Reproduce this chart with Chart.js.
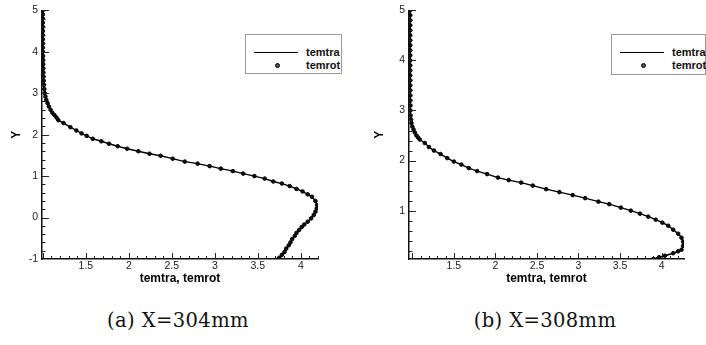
<!DOCTYPE html>
<html>
<head>
<meta charset="utf-8">
<script src="https://cdn.jsdelivr.net/npm/chart.js@4.4.0/dist/chart.umd.min.js"></script>
<style>
  body { margin: 0; background: #fff; width: 706px; height: 345px; position: relative; overflow: hidden; }
  canvas { position: absolute; top: 0; }
  .legend { position: absolute; top: 34px; height: 40px; border: 1px solid #9a9a9a; background: #fff;
            font: bold 11px 'Liberation Sans', Arial, sans-serif; color: #111; box-sizing: border-box; }
  .legend .ln { position: absolute; left: 8px; top: 17px; width: 44px; height: 0; border-top: 1.5px solid #000; }
  .legend .mk { position: absolute; left: 29px; top: 28px; width: 3px; height: 3px; border: 1px solid #000; border-radius: 50%; background: #555; }
  .legend .t1, .legend .t2 { position: absolute; left: 60px; line-height: 13px; }
  .legend .t1 { top: 11px; }
  .legend .t2 { top: 24px; }
  .cap { position: absolute; top: 309px; width: 320px; text-align: center; font: 19.5px 'DejaVu Serif', serif; letter-spacing: 0.4px; color: #111; }
</style>
</head>
<body>
<canvas id="chartA" width="353" height="290" style="left:0"></canvas>
<canvas id="chartB" width="353" height="290" style="left:353px"></canvas>

<div class="legend" style="left:245px;width:97px">
  <div class="ln"></div><div class="t1">temtra</div>
  <div class="mk"></div><div class="t2">temrot</div>
</div>
<div class="legend" style="left:611px;width:95px;height:41px">
  <div class="ln"></div><div class="t1">temtra</div>
  <div class="mk"></div><div class="t2">temrot</div>
</div>

<div class="cap" style="left:18px">(a) X=304mm</div>
<div class="cap" style="left:385px">(b) X=308mm</div>

<script>
// (a) X=304mm -- temtra and temrot lie on top of each other, so one profile feeds both
const yA = [5.0, 4.9, 4.8, 4.7, 4.6, 4.5, 4.4, 4.3, 4.2, 4.1, 4.0, 3.9, 3.8, 3.7, 3.6, 3.5, 3.4, 3.3, 3.2, 3.1,
  3.0, 2.92, 2.84, 2.76, 2.68, 2.6, 2.53, 2.47, 2.41, 2.35, 2.28, 2.18, 2.10, 2.03, 1.97, 1.90, 1.84, 1.78, 1.72,
  1.66, 1.60, 1.54, 1.49, 1.42, 1.35, 1.30, 1.24, 1.18, 1.12, 1.06, 1.00, 0.94, 0.87, 0.82, 0.76, 0.69, 0.63,
  0.56, 0.50, 0.40, 0.30, 0.22, 0.14, 0.06, -0.02, -0.10, -0.17, -0.23, -0.30, -0.37, -0.44, -0.52, -0.60,
  -0.67, -0.75, -0.83, -0.90, -0.97, -1.0];
const temA = [1.0, 1.0, 1.0, 1.0, 1.0, 1.0, 1.0, 1.0, 1.0, 1.0, 1.0, 1.002, 1.003, 1.004, 1.005, 1.006, 1.008, 1.01, 1.013, 1.017,
  1.022, 1.03, 1.04, 1.055, 1.07, 1.09, 1.11, 1.135, 1.16, 1.18, 1.24, 1.32, 1.39, 1.45, 1.51, 1.58, 1.68, 1.77, 1.87,
  1.98, 2.11, 2.24, 2.37, 2.51, 2.65, 2.80, 2.94, 3.07, 3.21, 3.33, 3.46, 3.58, 3.68, 3.78, 3.87, 3.95, 4.02,
  4.08, 4.13, 4.17, 4.19, 4.185, 4.17, 4.15, 4.12, 4.08, 4.04, 4.01, 3.98, 3.95, 3.93, 3.90, 3.88,
  3.86, 3.83, 3.81, 3.78, 3.75, 3.74];

// (b) X=308mm
const yB = [5.0, 4.9, 4.8, 4.7, 4.6, 4.5, 4.4, 4.3, 4.2, 4.1, 4.0, 3.9, 3.8, 3.7, 3.6, 3.5, 3.4, 3.3, 3.2, 3.1,
  3.0, 2.9, 2.82, 2.75, 2.68, 2.62, 2.56, 2.5, 2.46, 2.42, 2.35, 2.27, 2.20, 2.13, 2.05, 1.98, 1.92, 1.85, 1.79,
  1.73, 1.66, 1.61, 1.56, 1.50, 1.43, 1.37, 1.31, 1.25, 1.18, 1.13, 1.06, 1.00, 0.94, 0.88, 0.82, 0.76, 0.70,
  0.62, 0.54, 0.46, 0.38, 0.30, 0.22, 0.19, 0.15, 0.10, 0.07, 0.035];
const temB = [0.975, 0.975, 0.975, 0.975, 0.975, 0.975, 0.975, 0.975, 0.975, 0.975, 0.975, 0.975, 0.975, 0.975, 0.976, 0.976, 0.976, 0.977, 0.977, 0.978,
  0.978, 0.98, 0.985, 0.99, 1.0, 1.015, 1.03, 1.05, 1.07, 1.09, 1.15, 1.20, 1.26, 1.34, 1.42, 1.50, 1.59, 1.68, 1.78,
  1.90, 2.03, 2.16, 2.31, 2.45, 2.61, 2.77, 2.93, 3.08, 3.24, 3.37, 3.51, 3.63, 3.74, 3.84, 3.93, 4.01, 4.08,
  4.14, 4.20, 4.24, 4.26, 4.26, 4.24, 4.20, 4.14, 4.04, 3.97, 3.90];

const xTicks = [1.5, 2, 2.5, 3, 3.5, 4];
const yTicksA = [-1, 0, 1, 2, 3, 4, 5];
const yTicksB = [1, 2, 3, 4, 5];

const sansFont = "'Liberation Sans', Arial, sans-serif";

// inward major/minor tick marks, Tecplot style
const tickMarks = {
  id: 'tickMarks',
  afterDraw(chart) {
    const { ctx, chartArea: a, scales: { x, y } } = chart;
    ctx.save();
    ctx.strokeStyle = '#222';
    ctx.lineWidth = 1;
    ctx.beginPath();
    for (let i = Math.ceil(x.min * 10 + 1e-6); i <= Math.floor(x.max * 10 + 1e-6); i++) {
      const px = Math.round(x.getPixelForValue(i / 10)) + 0.5;
      const len = i % 5 === 0 ? 6 : 3;
      ctx.moveTo(px, a.bottom);
      ctx.lineTo(px, a.bottom - len);
    }
    for (let i = Math.ceil(y.min * 5 + 1e-6); i <= Math.floor(y.max * 5 + 1e-6); i++) {
      const py = Math.round(y.getPixelForValue(i / 5)) + 0.5;
      const len = i % 5 === 0 ? 7 : 3.5;
      ctx.moveTo(a.left, py);
      ctx.lineTo(a.left + len, py);
    }
    ctx.stroke();
    ctx.restore();
  }
};

function makeChart(id, ys, tems, opts) {
  const pts = ys.map((v, i) => ({ x: tems[i], y: v }));
  return new Chart(document.getElementById(id), {
    type: 'scatter',
    data: {
      datasets: [{
        label: 'temrot',
        data: pts,
        showLine: false,
        pointRadius: 1.8,
        pointBackgroundColor: '#111',
        pointBorderColor: '#000',
        pointBorderWidth: 1
      }, {
        label: 'temtra',
        data: pts,
        showLine: true,
        borderColor: '#000',
        borderWidth: 1.4,
        pointRadius: 0,
        tension: 0
      }]
    },
    options: {
      responsive: false,
      animation: false,
      devicePixelRatio: 1,
      layout: { padding: { left: 0, top: 9, right: opts.padRight, bottom: 0 } },
      plugins: { legend: { display: false }, tooltip: { enabled: false } },
      scales: {
        x: {
          type: 'linear',
          min: opts.xMin,
          max: opts.xMax,
          afterBuildTicks: s => { s.ticks = xTicks.map(v => ({ value: v })); },
          afterFit: s => { s.height = 31; },
          grid: { display: false, drawTicks: false },
          border: { display: true, color: '#111', width: 1.5 },
          ticks: { padding: 1, color: '#222', font: { family: sansFont, size: 10.5 }, maxRotation: 0, autoSkip: false,
                   callback: v => String(v) },
          title: { display: true, text: 'temtra, temrot', color: '#000', font: { family: sansFont, size: 12, weight: 'bold' }, padding: { top: 0, bottom: 4.5 } }
        },
        y: {
          type: 'linear',
          min: opts.yMin,
          max: 5,
          afterBuildTicks: s => { s.ticks = opts.yTicks.map(v => ({ value: v })); },
          afterFit: s => { s.width = opts.yWidth; },
          grid: { display: false, drawTicks: false },
          border: { display: true, color: '#111', width: 1.5 },
          ticks: { padding: 4, color: '#222', font: { family: sansFont, size: 10.5 }, autoSkip: false,
                   callback: v => String(v) },
          title: { display: true, text: 'Y', color: '#000', font: { family: sansFont, size: 12, weight: 'bold' }, padding: { top: opts.yTitlePad, bottom: 0 } }
        }
      }
    },
    plugins: [tickMarks]
  });
}

makeChart('chartA', yA, temA, { xMin: 0.99, xMax: 4.2, yMin: -1, yTicks: yTicksA, yWidth: 42, padRight: 35, yTitlePad: 9.8 });
makeChart('chartB', yB, temB, { xMin: 0.96, xMax: 4.27, yMin: 0.035, yTicks: yTicksB, yWidth: 56, padRight: 22, yTitlePad: 19.8 });
</script>
</body>
</html>
